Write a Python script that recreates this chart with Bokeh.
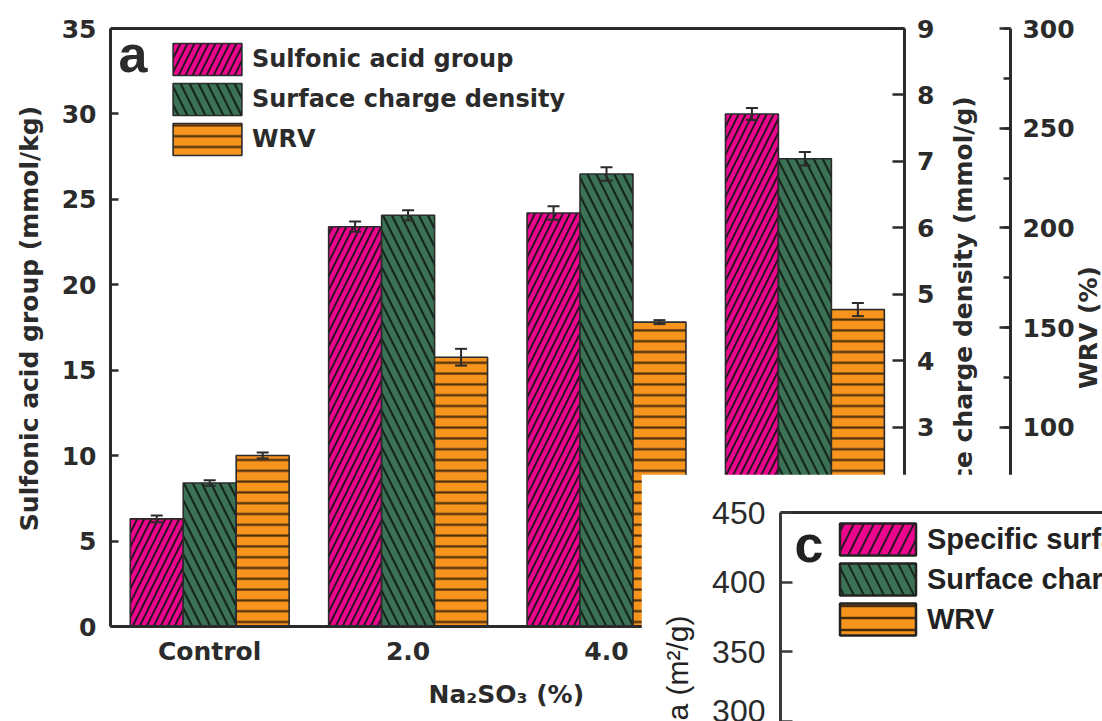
from bokeh.plotting import figure
from bokeh.models import (Range1d, LinearAxis, FactorRange, SingleIntervalTicker, FixedTicker,
                          Legend, LegendItem, Label, ColumnDataSource, Title)
from bokeh.transform import dodge
from bokeh.embed import file_html
from bokeh.resources import INLINE

# ---------------- data (panel a) ----------------
categories = ["Control", "2.0", "4.0", "6.0"]
sulfonic = [6.3, 23.4, 24.2, 30.0]          # mmol/kg (left axis)
sulfonic_err = [0.2, 0.3, 0.4, 0.35]
charge = [2.16, 6.19, 6.81, 7.04]           # mmol/g (right axis)
charge_err = [0.04, 0.075, 0.1, 0.1]
wrv = [85.8, 135.1, 152.7, 159.0]           # % (second right axis)
wrv_err = [1.5, 4.2, 1.0, 3.3]
series_a = ["Sulfonic acid group", "Surface charge density", "WRV"]
axis_titles_a = ["Sulfonic acid group (mmol/kg)", "Surface charge density (mmol/g)", "WRV (%)",
                 "Na\u2082SO\u2083 (%)"]
axis_max_a = [35, 9, 300]

# ---------------- panel c (only its top-left corner is visible; no bar reaches it) ----------------
series_c = ["Specific surface area", "Surface charge density", "WRV"]
c_categories = ["Control", "2.0", "4.0", "6.0"]
NAN = float("nan")
c_area = [NAN, NAN, NAN, NAN]      # not visible in the crop
c_charge = [NAN, NAN, NAN, NAN]
c_wrv = [NAN, NAN, NAN, NAN]
axis_title_c = "Specific surface area (m\u00b2/g)"

PINK = "#EC068D"
GREEN = "#3B7154"
ORANGE = "#F7941E"
DARK = "#2b2b2b"
FONT_A = "DejaVu Sans"
FONT_C = "Liberation Sans"

src = ColumnDataSource(dict(
    cat=categories,
    sulfonic=sulfonic, s_lo=[v - e for v, e in zip(sulfonic, sulfonic_err)],
    s_hi=[v + e for v, e in zip(sulfonic, sulfonic_err)],
    charge=charge, c_lo=[v - e for v, e in zip(charge, charge_err)],
    c_hi=[v + e for v, e in zip(charge, charge_err)],
    wrv=wrv, w_lo=[v - e for v, e in zip(wrv, wrv_err)],
    w_hi=[v + e for v, e in zip(wrv, wrv_err)],
))

# layout of panel a: plot box 598 px tall; the frame reaches 18 px higher so that the
# top tick labels of the right-hand axes are not clipped
BOX_H = 598
HEAD = 18
grow = (BOX_H + HEAD) / BOX_H

# an empty slot on the right of the factor range leaves room for the two right-hand axes
x_factors = categories + [" "]
NCAT = len(categories)
p = figure(width=1102, height=721, x_range=FactorRange(*x_factors),
           y_range=Range1d(0, axis_max_a[0] * grow), title=None,
           output_backend="svg", toolbar_location=None,
           min_border_left=110, min_border_right=0, min_border_top=28 - HEAD, min_border_bottom=95)
p.extra_y_ranges = {"charge": Range1d(0, axis_max_a[1] * grow), "wrv": Range1d(0, axis_max_a[2] * grow)}
p.xgrid.visible = False
p.ygrid.visible = False
p.outline_line_color = None
p.background_fill_color = "white"
p.border_fill_color = "white"

BW = 0.267
offs = [-BW, 0.0, BW]
cols = [("sulfonic", "s_lo", "s_hi", "default"), ("charge", "c_lo", "c_hi", "charge"),
        ("wrv", "w_lo", "w_hi", "wrv")]
fills = [PINK, GREEN, ORANGE]
hatches = [("/", "#2a1424", 14, 2), ("\\", "#15261c", 18, 2.2), ("-", "#4a2e0c", 10.8, 2.2)]

bar_renderers = []
for (top, lo, hi, rn), off, fc, (hp, hc, hs, hw) in zip(cols, offs, fills, hatches):
    xx = dodge("cat", off, range=p.x_range)
    r = p.vbar(x=xx, top=top, width=BW, source=src, y_range_name=rn,
               fill_color=fc, line_color=DARK, line_width=1.6,
               hatch_pattern=hp, hatch_color=hc, hatch_scale=hs, hatch_weight=hw)
    bar_renderers.append(r)
    p.segment(x0=xx, y0=lo, x1=xx, y1=hi, source=src, y_range_name=rn,
              line_color=DARK, line_width=2)
    for yc in (lo, hi):
        p.scatter(x=xx, y=yc, source=src, y_range_name=rn, marker="dash",
                  size=12, line_color=DARK, line_width=2)

# left axis
ya = p.yaxis[0]
ya.ticker = SingleIntervalTicker(interval=5, num_minor_ticks=0)
ya.axis_label = axis_titles_a[0]
ya.bounds = (0, axis_max_a[0])

# bottom axis (only over the four categories)
xa = p.xaxis[0]
xa.bounds = (0, NCAT)
xa.major_label_standoff = 4
p.add_layout(Title(text=axis_titles_a[3], align="left", offset=318, standoff=22,
                   vertical_align="top", text_font=FONT_A, text_font_style="bold",
                   text_font_size="25px", text_color=DARK), "below")

# top border line of the plot box (an unlabelled axis at the top of the left scale)
top_a = LinearAxis(bounds=(0, NCAT), ticker=FixedTicker(ticks=[]), fixed_location=axis_max_a[0],
                   major_tick_out=0, major_tick_in=0, minor_tick_out=0, minor_tick_in=0,
                   major_label_standoff=0, axis_line_width=3, axis_line_color=DARK)
p.add_layout(top_a, "above")

# right-hand axes at fixed positions
ax1 = LinearAxis(y_range_name="charge", ticker=SingleIntervalTicker(interval=1, num_minor_ticks=0),
                 fixed_location=NCAT, bounds=(0, axis_max_a[1]))
ax2 = LinearAxis(y_range_name="wrv", ticker=SingleIntervalTicker(interval=50, num_minor_ticks=2),
                 fixed_location=NCAT + 0.536, bounds=(0, axis_max_a[2]))
p.add_layout(ax1, "right")
p.add_layout(ax2, "right")

for ax, tin in ((ya, 8), (ax1, 12), (ax2, 11)):
    ax.major_tick_in = tin
    ax.major_tick_out = 0
    ax.minor_tick_in = 7
    ax.minor_tick_out = 0
for ax in (ya, xa, ax1, ax2):
    ax.axis_line_color = DARK
    ax.axis_line_width = 3
    ax.major_tick_line_width = 2.5
    ax.minor_tick_line_width = 2.5
    ax.major_tick_line_color = DARK
    ax.minor_tick_line_color = DARK
    ax.major_label_text_font = FONT_A
    ax.major_label_text_font_style = "bold"
    ax.major_label_text_font_size = "25px"
    ax.major_label_text_color = DARK
    ax.axis_label_text_font = FONT_A
    ax.axis_label_text_font_style = "bold"
    ax.axis_label_text_font_size = "25px"
    ax.axis_label_text_color = DARK
xa.major_tick_line_color = None
xa.minor_tick_line_color = None
ya.major_label_standoff = 14
ya.axis_label_standoff = 15
ax1.major_label_standoff = 13
ax2.major_label_standoff = 12

# right-axis titles, reading bottom-to-top as in the reference
for txt, xs in ((axis_titles_a[1], 853), (axis_titles_a[2], 978)):
    p.add_layout(Label(x=xs, y=299, x_units="screen", y_units="screen", text=txt,
                       angle=90, angle_units="deg", text_align="center", text_baseline="middle",
                       text_font=FONT_A, text_font_style="bold", text_font_size="25px",
                       text_color=DARK))

legend_a = Legend(items=[LegendItem(label=n, renderers=[r]) for n, r in zip(series_a, bar_renderers)],
                  location=(54, 467), orientation="vertical", padding=0, margin=0,
                  spacing=0, glyph_width=86, glyph_height=40, label_standoff=2,
                  border_line_color=None, background_fill_alpha=0,
                  label_text_font=FONT_A, label_text_font_style="bold",
                  label_text_font_size="24px", label_text_color=DARK)
p.add_layout(legend_a)

p.add_layout(Label(x=8, y=544, x_units="screen", y_units="screen", text="a",
                   text_font="Liberation Sans", text_font_style="bold",
                   text_font_size="52px", text_color=DARK))

# ---------------- panel c (inset, overlapping) ----------------
pc = figure(width=461, height=247, x_range=FactorRange(*c_categories), y_range=Range1d(300, 450),
            output_backend="svg", toolbar_location=None, x_axis_location=None,
            min_border_left=139, min_border_right=0, min_border_top=38, min_border_bottom=0,
            outline_line_color=None)
pc.styles = {"position": "absolute", "left": "641px", "top": "474px", "z-index": "5"}
pc.xgrid.visible = False
pc.ygrid.visible = False
pc.background_fill_color = "white"
pc.border_fill_color = "white"

top_c = LinearAxis(ticker=FixedTicker(ticks=[]),
                   major_tick_out=0, major_tick_in=0, minor_tick_out=0, minor_tick_in=0,
                   major_label_standoff=0, axis_line_width=3, axis_line_color=DARK)
pc.add_layout(top_c, "above")

yc = pc.yaxis[0]
yc.ticker = SingleIntervalTicker(interval=50, num_minor_ticks=0)
yc.major_tick_in = 12
yc.major_tick_out = 0
yc.axis_line_width = 3
yc.axis_line_color = "#3a3a3a"
yc.major_tick_line_width = 2.5
yc.major_tick_line_color = "#3a3a3a"
yc.major_label_standoff = 15
yc.major_label_text_font = FONT_C
yc.major_label_text_font_size = "32px"
yc.major_label_text_color = DARK

pc.add_layout(Title(text=axis_title_c, align="right", offset=103, standoff=32,
                    text_font=FONT_C, text_font_style="normal", text_font_size="30px",
                    text_color="#222222"), "left")

src_c = ColumnDataSource(dict(cat=c_categories, area=c_area, charge=c_charge, wrv=c_wrv))
c_style = [(PINK, "/", "#2a1424", 20, 2), (GREEN, "\\", "#15261c", 20, 2), (ORANGE, "-", "#4a2e0c", 12, 2.5)]
c_rend = []
for fld, off, (fc, hp, hc, hs, hw) in zip(["area", "charge", "wrv"], offs, c_style):
    r = pc.vbar(x=dodge("cat", off, range=pc.x_range), top=fld, width=BW, source=src_c,
                fill_color=fc, line_color="#222222", line_width=2.5,
                hatch_pattern=hp, hatch_color=hc, hatch_scale=hs, hatch_weight=hw)
    c_rend.append(r)

legend_c = Legend(items=[LegendItem(label=n, renderers=[r]) for n, r in zip(series_c, c_rend)],
                  location=(50, 82), orientation="vertical", padding=0, margin=0,
                  spacing=0, glyph_width=95, glyph_height=40, label_standoff=2,
                  border_line_color=None, background_fill_alpha=0,
                  label_text_font=FONT_C, label_text_font_style="bold",
                  label_text_font_size="29px", label_text_color="#222222")
pc.add_layout(legend_c)

pc.add_layout(Label(x=14, y=149, x_units="screen", y_units="screen", text="c",
                    text_font=FONT_C, text_font_style="bold",
                    text_font_size="52px", text_color="#222222"))

open("out.html", "w").write(file_html([p, pc], INLINE))
